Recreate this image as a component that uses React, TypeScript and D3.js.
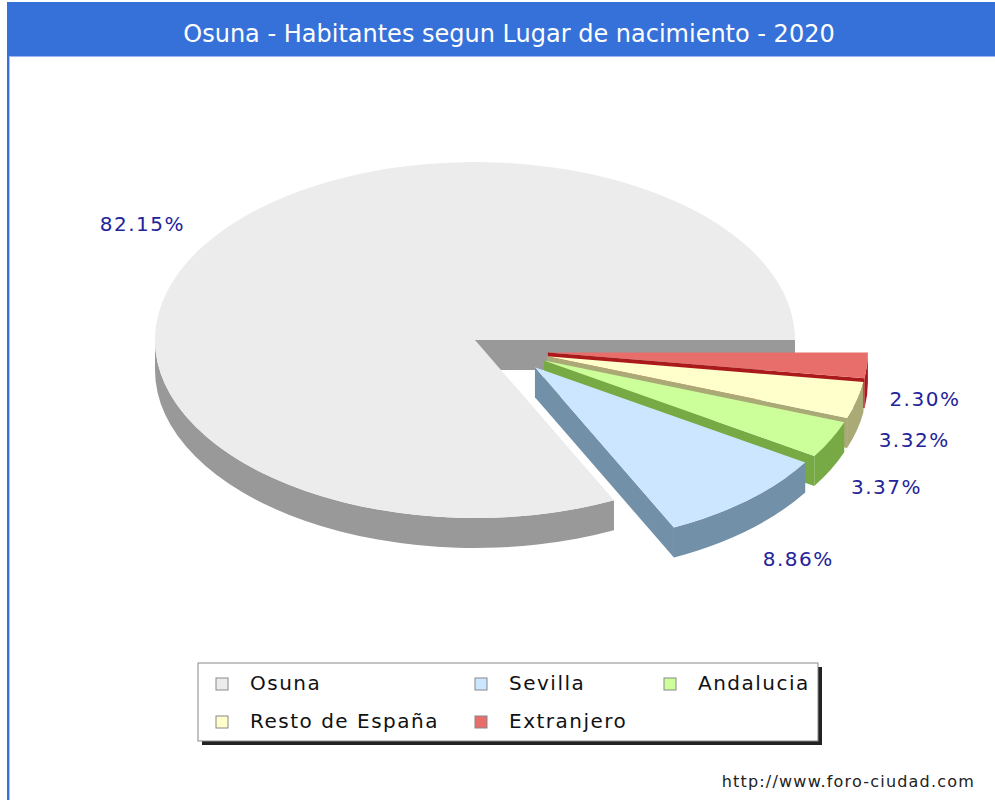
import React from "react";
import * as d3 from "d3";

const categories = ["Osuna", "Sevilla", "Andalucia", "Resto de España", "Extranjero"];
const values = [82.15, 8.86, 3.37, 3.32, 2.3];
const topColors = ["#ececec", "#cce6ff", "#ccff99", "#ffffcc", "#e86e6c"];
const sideColors = ["#999999", "#7290a8", "#77aa44", "#aaaa77", "#aa1a1a"];
const title = "Osuna - Habitantes segun Lugar de nacimiento - 2020";
const footer = "http://www.foro-ciudad.com";

const W = 995;
const H = 800;
const cx = 475;
const cy = 340;
const rx = 320;
const ry = 178;
const depth = 30;
const shift = [34, 11];
const explode = 39;

type Slice = {
  name: string;
  value: number;
  top: string;
  side: string;
  a0: number;
  a1: number;
  ox: number;
  oy: number;
};

const pt = (x: number, y: number, a: number, k = 1) => [
  x + rx * k * Math.cos(a),
  y + ry * k * Math.sin(a),
];

const App = () => {
  // pie goes clockwise from 3 o'clock, smallest slice first
  const rows = categories
    .map((name, i) => ({ name, value: values[i], top: topColors[i], side: sideColors[i] }))
    .reverse();
  const pie = d3
    .pie<any>()
    .sort(null)
    .value((d) => d.value)
    .startAngle(Math.PI / 2)
    .endAngle(Math.PI / 2 + 2 * Math.PI);

  const slices: Slice[] = pie(rows).map((p) => {
    const a0 = p.startAngle - Math.PI / 2;
    const a1 = p.endAngle - Math.PI / 2;
    const mid = (a0 + a1) / 2;
    const isMain = p.data.name === categories[0];
    return {
      ...p.data,
      a0,
      a1,
      ox: isMain ? cx : cx + shift[0] + explode * Math.cos(mid),
      oy: isMain ? cy : cy + shift[1] + explode * (ry / rx) * Math.sin(mid),
    };
  });

  // main slice is at the back, then the exploded ones from top to bottom
  const order = [slices[slices.length - 1], ...slices.slice(0, -1)];

  const topPath = (s: Slice) => {
    const [x0, y0] = pt(s.ox, s.oy, s.a0);
    const [x1, y1] = pt(s.ox, s.oy, s.a1);
    const large = s.a1 - s.a0 > Math.PI ? 1 : 0;
    return `M${s.ox},${s.oy}L${x0},${y0}A${rx},${ry} 0 ${large} 1 ${x1},${y1}Z`;
  };

  const outerSide = (s: Slice) => {
    const st = Math.max(s.a0, 0);
    const en = Math.min(s.a1, Math.PI);
    if (en <= st) return null;
    const [x0, y0] = pt(s.ox, s.oy, st);
    const [x1, y1] = pt(s.ox, s.oy, en);
    return `M${x0},${y0}A${rx},${ry} 0 0 1 ${x1},${y1}L${x1},${y1 + depth}A${rx},${ry} 0 0 0 ${x0},${y0 + depth}Z`;
  };

  const radial = (s: Slice, a: number) => {
    const [x, y] = pt(s.ox, s.oy, a);
    return `M${s.ox},${s.oy}L${x},${y}L${x},${y + depth}L${s.ox},${s.oy + depth}Z`;
  };

  const labelPos = (s: Slice) => {
    const mid = (s.a0 + s.a1) / 2;
    const x = s.ox + rx * 1.07 * Math.cos(mid);
    let y = s.oy + ry * 1.21 * Math.sin(mid);
    if (Math.sin(mid) > 0) y += depth + 2;
    return { x, y, anchor: Math.cos(mid) >= 0 ? "start" : "end" };
  };

  const legendCols = [216, 475, 664];
  const legendRows = [684, 722];

  return (
    <svg
      width={W}
      height={H}
      style={{ position: "absolute", left: 0, top: 0 }}
      fontFamily="DejaVu Sans, sans-serif"
    >
      <rect x={0} y={0} width={W} height={H} fill="#ffffff" />
      <rect x={7} y={2} width={W - 7} height={54} fill="#3571d8" />
      <line x1={8} x2={W} y1={56.5} y2={56.5} stroke="#9ab8ee" />
      <rect x={7} y={2} width={2} height={H} fill="#3571d8" />
      <line x1={9.5} x2={9.5} y1={56} y2={H} stroke="#a8c2f0" />
      <text x={509} y={42} textAnchor="middle" fill="#ffffff" fontSize={24}>
        {title}
      </text>

      {order.map((s) => (
        <g key={s.name}>
          {Math.cos(s.a0) < 0 && <path d={radial(s, s.a0)} fill={s.side} />}
          {Math.cos(s.a1) > 0 && <path d={radial(s, s.a1)} fill={s.side} />}
          {outerSide(s) && <path d={outerSide(s)!} fill={s.side} />}
          <path d={topPath(s)} fill={s.top} />
        </g>
      ))}

      {slices.map((s) => {
        const l = labelPos(s);
        return (
          <text
            key={s.name}
            x={l.x}
            y={l.y}
            textAnchor={l.anchor}
            dominantBaseline="middle"
            fill="#23239a"
            fontSize={20}
            letterSpacing={1.5}
          >
            {s.value.toFixed(2)}%
          </text>
        );
      })}

      <rect x={202} y={667} width={620} height={78} fill="#222222" />
      <rect x={198} y={663} width={620} height={78} fill="#ffffff" stroke="#888888" />
      {categories.map((c, i) => {
        const x = legendCols[i % 3];
        const y = legendRows[Math.floor(i / 3)];
        return (
          <g key={c}>
            <rect x={x} y={y - 6} width={12} height={12} fill={topColors[i]} stroke="#888888" />
            <text x={x + 34} y={y} dominantBaseline="middle" fontSize={20} letterSpacing={1.5} fill="#111111">
              {c}
            </text>
          </g>
        );
      })}

      <text x={975} y={787} textAnchor="end" fontSize={16} fill="#222222" letterSpacing={1.2}>
        {footer}
      </text>
    </svg>
  );
};

export default App;
